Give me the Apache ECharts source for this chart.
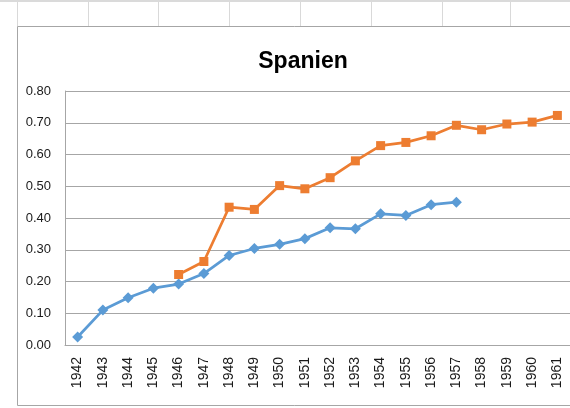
<!DOCTYPE html>
<html>
<head>
<meta charset="utf-8">
<script src="https://cdn.jsdelivr.net/npm/echarts@6/dist/echarts.min.js"></script>
<style>
  html, body { margin: 0; padding: 0; background: #fff; }
  #main { width: 570px; height: 408px; }
</style>
</head>
<body>
<div id="main"></div>
<script>
// Jahre auf der x-Achse
var years = ['1942','1943','1944','1945','1946','1947','1948','1949','1950','1951',
             '1952','1953','1954','1955','1956','1957','1958','1959','1960','1961'];
// blaue Reihe (Rauten)
var blueValues = [0.025, 0.110, 0.149, 0.179, 0.192, 0.225, 0.282, 0.304, 0.317, 0.335,
                  0.369, 0.366, 0.413, 0.408, 0.442, 0.450, null, null, null, null];
// orange Reihe (Quadrate)
var orangeValues = [null, null, null, null, 0.222, 0.263, 0.434, 0.427, 0.502, 0.492,
                    0.527, 0.580, 0.628, 0.638, 0.659, 0.692, 0.678, 0.696, 0.702, 0.723];
var yTicks = ['0.00','0.10','0.20','0.30','0.40','0.50','0.60','0.70','0.80'];

var chart = echarts.init(document.getElementById('main'));

// Tabellenraster oben (Excel-Hintergrund)
var sheetLines = [];
[17, 88, 158, 229, 300, 371, 442, 510].forEach(function (x) {
  sheetLines.push({ type: 'line', shape: { x1: x + 0.5, y1: 0, x2: x + 0.5, y2: 26 },
                    style: { stroke: '#d9d9d9', lineWidth: 1 }, silent: true });
});

var option = {
  backgroundColor: '#fff',
  animation: false,
  title: {
    text: 'Spanien',
    left: 298, top: 45, textAlign: 'center',
    textStyle: { fontFamily: 'Liberation Sans', fontWeight: 'bold', fontSize: 23, color: '#000' }
  },
  graphic: sheetLines.concat([
    { type: 'rect', shape: { x: 0, y: 0, width: 570, height: 2 }, style: { fill: '#dadada' }, silent: true },
    { type: 'rect', shape: { x: 17.5, y: 26.5, width: 600, height: 379 },
      style: { fill: 'none', stroke: '#a6a6a6', lineWidth: 1 }, silent: true, z: 10 }
  ]),
  grid: { left: 65, top: 91, width: 506, height: 254 },
  xAxis: {
    type: 'category',
    data: years,
    boundaryGap: true,
    axisLine: { lineStyle: { color: '#a6a6a6', width: 1 } },
    axisTick: { show: false },
    axisLabel: { rotate: 90, margin: 12, fontSize: 14, color: '#1a1a1a', fontFamily: 'Liberation Sans' }
  },
  yAxis: {
    type: 'value',
    min: 0, max: 0.8, interval: 0.1,
    axisLine: { show: true, lineStyle: { color: '#a6a6a6', width: 1 } },
    axisTick: { show: false },
    splitLine: { lineStyle: { color: '#a6a6a6', width: 1 } },
    axisLabel: {
      margin: 14, fontSize: 13, color: '#1a1a1a', fontFamily: 'Liberation Sans',
      formatter: function (v) { return yTicks[Math.round(v * 10)]; }
    }
  },
  series: [
    {
      name: 'blau', type: 'line', data: blueValues,
      symbol: 'diamond', symbolSize: 11,
      lineStyle: { color: '#5b9bd5', width: 2.75 },
      itemStyle: { color: '#5b9bd5' },
      connectNulls: false
    },
    {
      name: 'orange', type: 'line', data: orangeValues,
      symbol: 'rect', symbolSize: 9,
      lineStyle: { color: '#ed7d31', width: 2.75 },
      itemStyle: { color: '#ed7d31' },
      connectNulls: false
    }
  ]
};

chart.setOption(option);
</script>
</body>
</html>
